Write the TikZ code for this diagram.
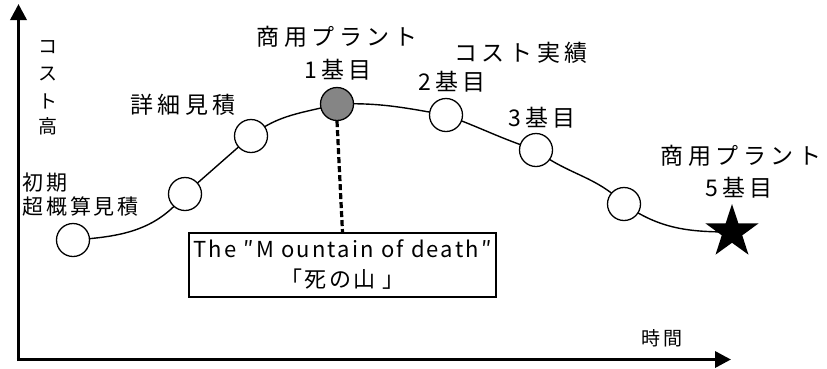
\documentclass[tikz,border=0pt]{standalone}
\usepackage{fontspec}
\setmainfont{Noto Sans CJK JP}
\newfontfamily\jpsp{Noto Sans CJK JP}[LetterSpace=20]
\newfontfamily\jpmid{Noto Sans CJK JP}[LetterSpace=14]
\newfontfamily\boxfont{Noto Sans CJK JP}[LetterSpace=10]
\usetikzlibrary{shapes.geometric,arrows.meta}
\begin{document}
\begin{tikzpicture}[x=1pt,y=-1pt,
  axis/.style={line width=3.4pt,-{Triangle[length=16pt,width=16pt]}},
  pt/.style={circle,draw,line width=1.3pt,fill=white,minimum size=33pt,inner sep=0pt},
  gpt/.style={pt,fill=black!48},
  starn/.style={star,star points=5,star point ratio=2.6,fill=black,minimum size=56pt,inner sep=0pt},
  curve/.style={line width=1.4pt},
  lbl/.style={font=\jpsp\fontsize{23}{26}\selectfont,inner sep=0pt,align=center},
  small/.style={font=\fontsize{19}{22}\selectfont,inner sep=0pt,align=center}]
\useasboundingbox (0,0) rectangle (827,368);
% axes
\coordinate (o) at (18.5,359.5);
\coordinate (ytop) at (18.5,4);
\coordinate (xend) at (731,359.5);
\draw[axis] ([yshift=-1.7pt]o) -- (ytop);
\draw[axis] ([xshift=-1.7pt]o) -- (xend);
% point positions
\coordinate (c1) at (73,240);
\coordinate (c2) at (185,194);
\coordinate (c3) at (251,136);
\coordinate (c4) at (337,104);
\coordinate (c5) at (446,115);
\coordinate (c6) at (536,150);
\coordinate (c7) at (624,204);
\coordinate (st) at (732,232);
% curve
\draw[curve] (c1) to[out=4,in=232] (c2);
\draw[curve] (c2) -- (c3);
\draw[curve] (c3) to[out=38,in=195] (c4);
\draw[curve] (c4) to[out=2,in=170] (c5);
\draw[curve] (c5) to[out=-20,in=162] (c6);
\draw[curve] (c6) to[out=-38,in=135] (c7);
\draw[curve] (c7) to[out=-35,in=180] (st);
% points on top
\node[pt] (n1) at (c1) {};
\node[pt] (n2) at (c2) {};
\node[pt] (n3) at (c3) {};
\node[gpt] (n4) at (c4) {};
\node[pt] (n5) at (c5) {};
\node[pt] (n6) at (c6) {};
\node[pt] (n7) at (c7) {};
\node[starn] (nst) at (st) {};
% box
\node[draw,line width=1.2pt,minimum width=307pt,minimum height=64pt,align=center,
  font=\boxfont\fontsize{22}{30}\selectfont,inner sep=0pt] (box) at (342.5,265)
  {The ″M ountain of death″\\「死の山 」};
\draw[line width=3.2pt,dash pattern=on 6pt off 3pt] (n4.south) -- (box.north);
% labels
\node[small] (yl1) at (48,47) {コ};
\node[small] (yl2) at (48,74) {ス};
\node[small] (yl3) at (48,101) {ト};
\node[small] (yl4) at (48,126) {高};
\node[font=\jpmid\fontsize{21}{24}\selectfont,inner sep=0pt,align=left,anchor=west] (init) at (22,195) {初期\\超概算見積};
\node[lbl] (est) at (183,105) {詳細見積};
\node[lbl] (p1a) at (337,37) {商用プラント};
\node[lbl] (p1b) at (338,70) {1基目};
\node[lbl] (cost) at (521,53) {コスト実績};
\node[lbl] (p2) at (452,82) {2基目};
\node[lbl] (p3) at (542,118) {3基目};
\node[lbl] (p5a) at (741,156) {商用プラント};
\node[lbl] (p5b) at (739,188) {5基目};
\node[small,font=\jpmid\fontsize{19}{22}\selectfont] (time) at (662,338) {時間};
\end{tikzpicture}
\end{document}
